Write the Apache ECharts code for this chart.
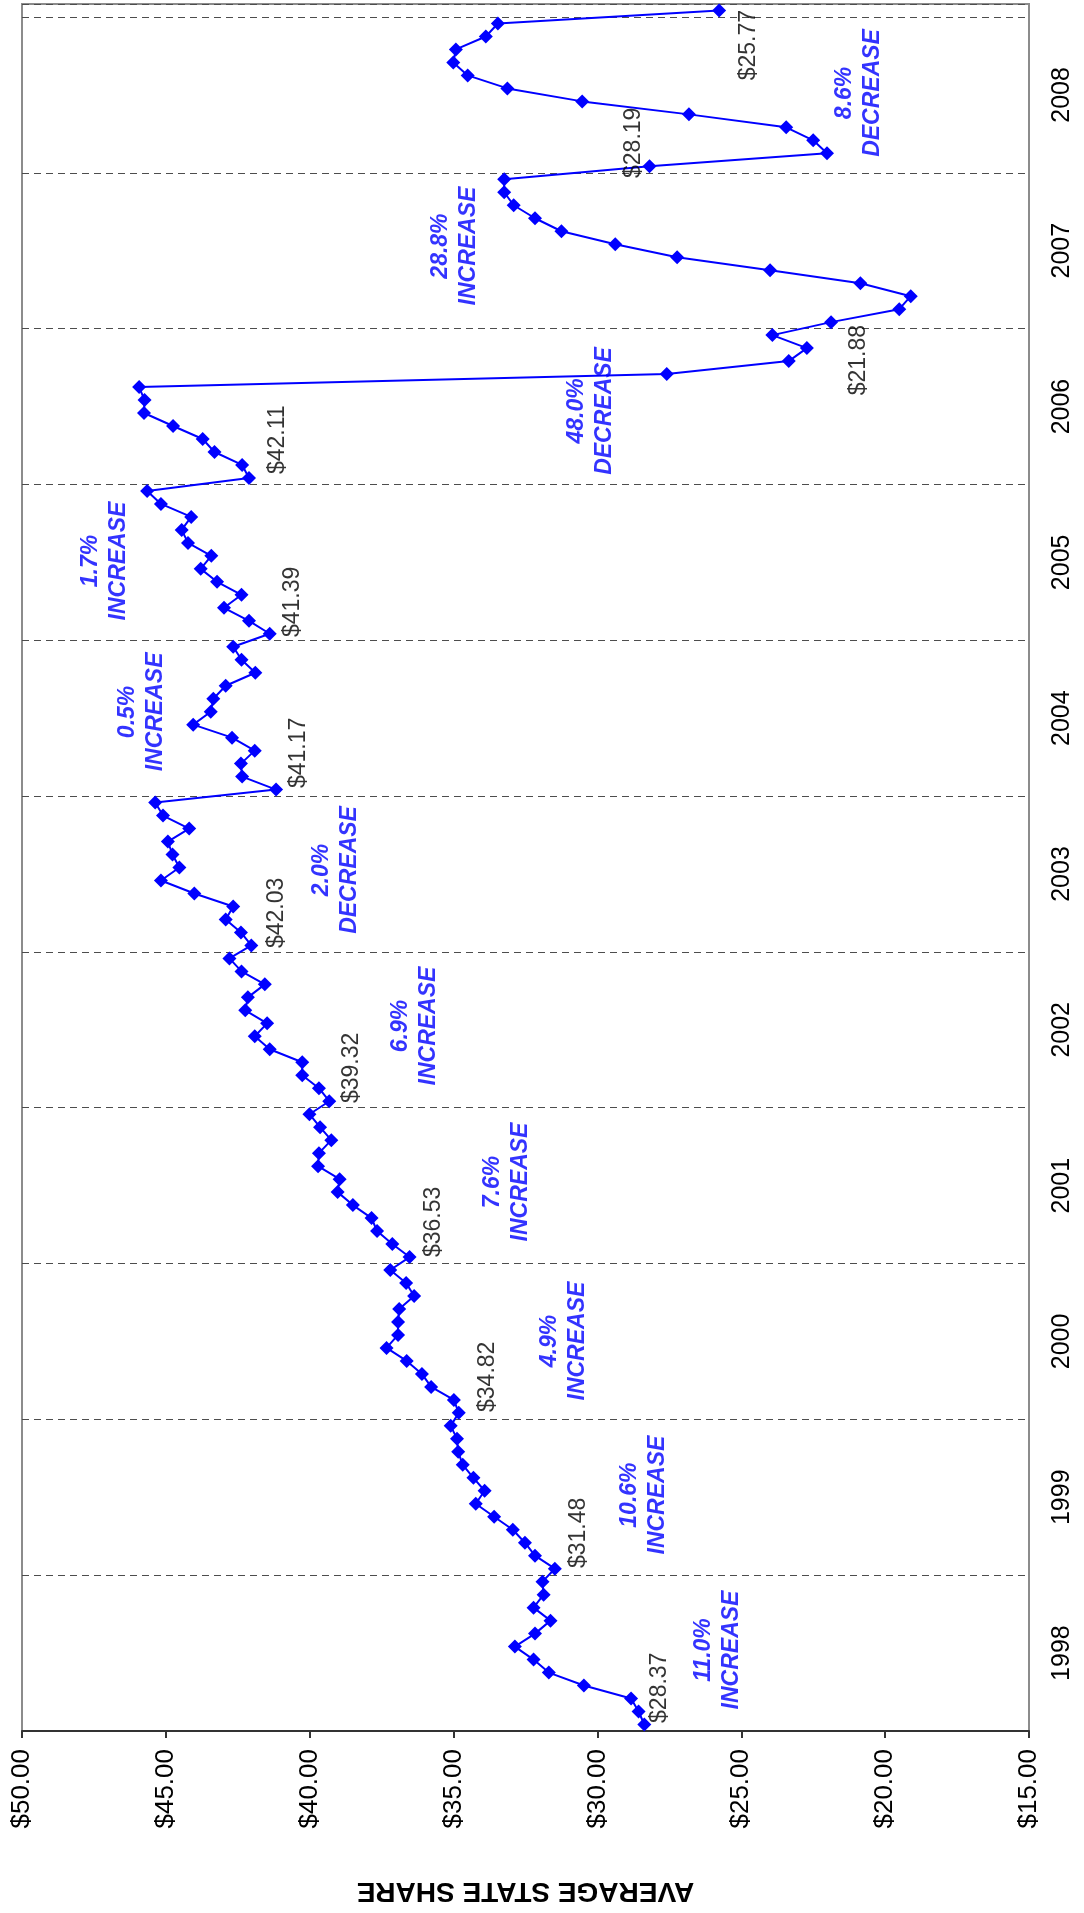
<!DOCTYPE html>
<html>
<head>
<meta charset="utf-8">
<script src="https://cdn.jsdelivr.net/npm/echarts@6.0.0/dist/echarts.min.js"></script>
<style>
  html, body { margin: 0; padding: 0; background: #fff; }
  #chart { width: 1084px; height: 1913px; }
</style>
</head>
<body>
<div id="chart"></div>
<script>
// year groups along the (rotated) category side, 12 months each
const years = ['1998', '1999', '2000', '2001', '2002', '2003', '2004', '2005', '2006', '2007', '2008'];

// average state share, one value per month
const shares = [
  28.37, 28.57, 28.83, 30.47, 31.69, 32.22, 32.87, 32.17, 31.63, 32.22, 31.87, 31.91,
  31.48, 32.17, 32.52, 32.94, 33.59, 34.23, 33.92, 34.31, 34.68, 34.84, 34.88, 35.10,
  34.82, 34.99, 35.78, 36.10, 36.63, 37.33, 36.93, 36.93, 36.89, 36.37, 36.65, 37.20,
  36.53, 37.13, 37.66, 37.85, 38.50, 39.03, 38.96, 39.71, 39.68, 39.25, 39.64, 40.01,
  39.32, 39.68, 40.26, 40.26, 41.39, 41.91, 41.48, 42.24, 42.15, 41.56, 42.37, 42.79,
  42.03, 42.39, 42.92, 42.66, 44.01, 45.17, 44.53, 44.77, 44.93, 44.19, 45.10, 45.37,
  41.17, 42.35, 42.39, 41.91, 42.70, 44.05, 43.44, 43.35, 42.92, 41.89, 42.37, 42.66,
  41.39, 42.11, 42.98, 42.37, 43.22, 43.79, 43.42, 44.23, 44.45, 44.12, 45.17, 45.65,
  42.11, 42.35, 43.31, 43.72, 44.75, 45.76, 45.74, 45.93, 27.59, 23.35, 22.72, 23.92,
  21.88, 19.51, 19.11, 20.86, 24.00, 27.23, 29.38, 31.25, 32.17, 32.91, 33.24, 33.24,
  28.19, 22.02, 22.50, 23.44, 26.82, 30.53, 33.13, 34.51, 35.01, 34.92, 33.88, 33.46,
  25.77
];

// months that carry a price tag (first month of each year)
const taggedMonths = [0, 12, 24, 36, 48, 60, 72, 84, 96, 108, 120, 132];

// yearly change notes
const changeNotes = [
  '11.0%\nINCREASE', '10.6%\nINCREASE', '4.9%\nINCREASE', '7.6%\nINCREASE',
  '6.9%\nINCREASE', '2.0%\nDECREASE', '0.5%\nINCREASE', '1.7%\nINCREASE',
  '48.0%\nDECREASE', '28.8%\nINCREASE', '8.6%\nDECREASE'
];

// where the texts sit, in axis units [share, month position, text anchor side]
const tagSpots = [
  [27.84, 0.62, 'left'], [30.66, 12.55, 'left'], [33.82, 24.57, 'left'], [35.70, 36.50, 'left'],
  [38.55, 48.36, 'left'], [41.16, 60.30, 'left'], [40.40, 72.62, 'left'], [40.61, 84.25, 'left'],
  [41.13, 96.80, 'left'], [20.91, 108.28, 'right'], [28.74, 119.60, 'left'], [24.74, 132.54, 'right']
];
const noteSpots = [
  [25.82, 6.24], [28.39, 18.17], [31.18, 30.03], [33.16, 42.28], [36.36, 54.29], [39.11, 66.31],
  [45.83, 78.48], [47.11, 90.10], [30.24, 101.66], [34.97, 114.36], [20.91, 126.15]
];

const months = shares.length;
const font = '"Liberation Sans", Arial, sans-serif';

const chartE = echarts.init(document.getElementById('chart'));

chartE.setOption({
  backgroundColor: '#fff',
  animation: false,
  textStyle: { fontFamily: font },
  grid: { left: 22, right: 55, top: 4, bottom: 182, show: true, borderColor: '#8c8c8c', borderWidth: 2 },
  xAxis: {
    type: 'value', min: 15, max: 50, interval: 5, inverse: true, position: 'bottom',
    axisLine: { show: true, onZero: false, lineStyle: { color: '#333', width: 2 } },
    axisTick: { show: true, length: 7, lineStyle: { color: '#333', width: 2 } },
    axisLabel: { rotate: 90, margin: 18, fontSize: 26, color: '#000', fontFamily: font, formatter: v => '$' + v.toFixed(2) },
    splitLine: { show: false },
    name: 'AVERAGE STATE SHARE', nameLocation: 'middle', nameGap: 146, nameRotate: 180,
    nameTextStyle: { fontSize: 28, fontWeight: 'bold', color: '#000', fontFamily: font }
  },
  yAxis: [
    {
      type: 'value', min: 0, max: months, interval: 12, position: 'left',
      axisLine: { show: false }, axisTick: { show: false }, axisLabel: { show: false },
      splitLine: { show: true, lineStyle: { color: '#4d4d4d', width: 1, type: [7, 5] } }
    },
    {
      type: 'value', min: 0, max: months, interval: 6, position: 'right',
      axisLine: { show: false }, axisTick: { show: false }, splitLine: { show: false },
      axisLabel: {
        rotate: 90, margin: 21, fontSize: 25, color: '#000', fontFamily: font,
        formatter: v => (v % 12 === 6 ? years[(v - 6) / 12] : '')
      }
    }
  ],
  series: [
    {
      type: 'line', yAxisIndex: 0, z: 3,
      data: shares.map((v, i) => [v, i + 0.5]),
      symbol: 'diamond', symbolSize: 14,
      lineStyle: { color: '#0000ff', width: 2 },
      itemStyle: { color: '#0000ff' }
    },
    {
      type: 'scatter', yAxisIndex: 0, z: 4, symbolSize: 1, silent: true,
      itemStyle: { color: 'rgba(0,0,0,0)' },
      data: taggedMonths.map((m, k) => ({
        value: [tagSpots[k][0], tagSpots[k][1]],
        text: '$' + shares[m].toFixed(2),
        label: { align: tagSpots[k][2] }
      })),
      label: {
        show: true, position: 'inside', rotate: 90, verticalAlign: 'middle',
        fontSize: 23, color: '#000', fontFamily: font,
        formatter: p => p.data.text
      }
    },
    {
      type: 'scatter', yAxisIndex: 0, z: 4, symbolSize: 1, silent: true,
      itemStyle: { color: 'rgba(0,0,0,0)' },
      data: changeNotes.map((t, k) => ({ value: noteSpots[k], text: t })),
      label: {
        show: true, position: 'inside', rotate: 90, align: 'center', verticalAlign: 'middle',
        fontSize: 23, lineHeight: 28, fontWeight: 'bold', fontStyle: 'italic',
        color: '#0000ff', fontFamily: font,
        formatter: p => p.data.text
      }
    }
  ]
}, true);
</script>
</body>
</html>
